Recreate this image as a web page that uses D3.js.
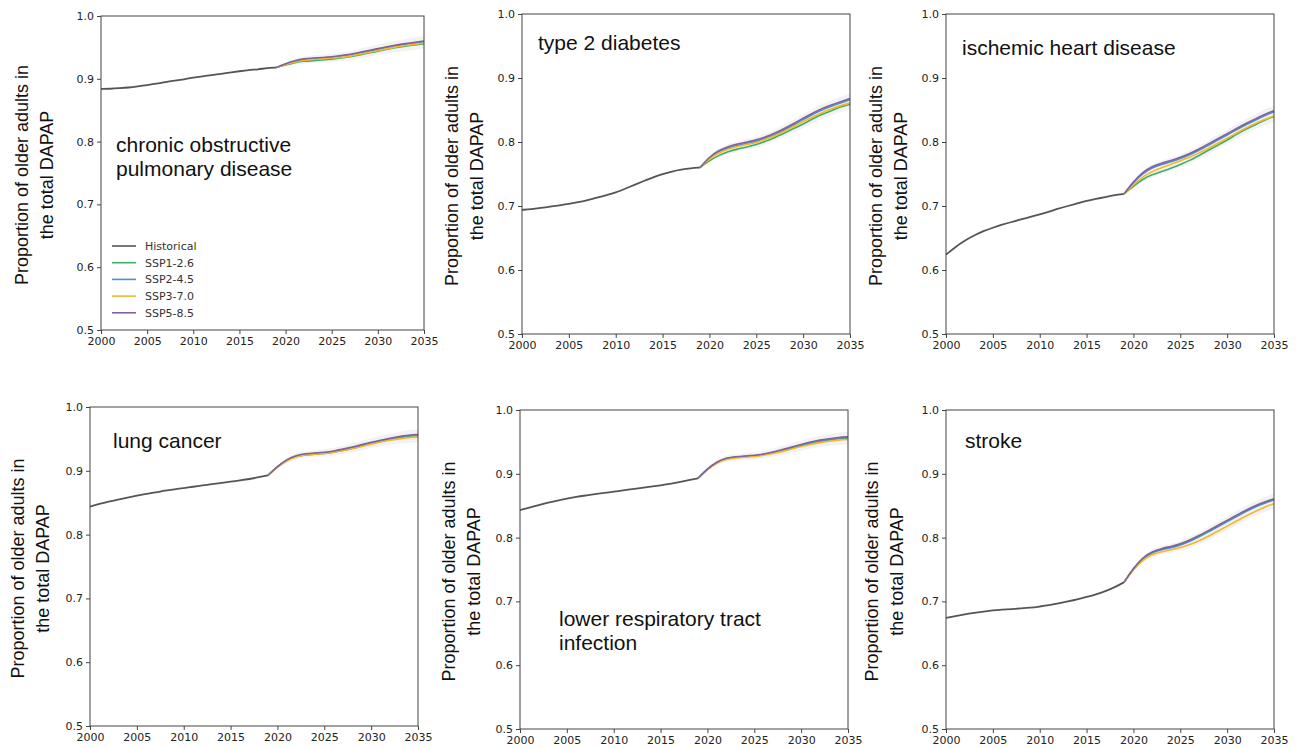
<!DOCTYPE html>
<html><head><meta charset="utf-8">
<script src="https://cdn.jsdelivr.net/npm/d3@7"></script>
<style>body{margin:0;background:#fff}svg{display:block}</style>
</head><body><svg id="c" width="1297" height="748"></svg>
<script>
// ---------- data ----------
const histYears = [2000,2001,2002,2003,2004,2005,2006,2007,2008,2009,2010,2011,2012,2013,2014,2015,2016,2017,2018,2019];
const projYears = [2019,2020,2021,2022,2023,2024,2025,2026,2027,2028,2029,2030,2031,2032,2033,2034,2035];
const xTickValues = [2000,2005,2010,2015,2020,2025,2030,2035];
const yTickValues = [0.5,0.6,0.7,0.8,0.9,1.0];
const seriesNames = ["Historical","SSP1-2.6","SSP2-4.5","SSP3-7.0","SSP5-8.5"];
const bandMargin = [0,0.002,0.003,0.004,0.004,0.004,0.005,0.005,0.005,0.006,0.006,0.006,0.007,0.007,0.007,0.008,0.008];

// chronic obstructive pulmonary disease
const copdHist = [0.884,0.884,0.885,0.886,0.888,0.890,0.892,0.895,0.897,0.899,0.902,0.904,0.906,0.908,0.910,0.912,0.914,0.915,0.917,0.918];
const copdSSP126 = [0.918,0.922,0.926,0.928,0.929,0.930,0.931,0.933,0.935,0.938,0.941,0.944,0.947,0.950,0.952,0.954,0.956];
const copdSSP245 = [0.918,0.923,0.928,0.931,0.932,0.933,0.934,0.936,0.938,0.941,0.944,0.947,0.950,0.953,0.955,0.957,0.959];
const copdSSP370 = [0.918,0.923,0.927,0.930,0.931,0.932,0.933,0.934,0.936,0.939,0.942,0.945,0.948,0.951,0.953,0.955,0.957];
const copdSSP585 = [0.918,0.924,0.929,0.932,0.933,0.934,0.935,0.937,0.939,0.942,0.945,0.948,0.951,0.954,0.956,0.958,0.960];

// type 2 diabetes
const t2dHist = [0.694,0.695,0.697,0.699,0.701,0.703,0.706,0.709,0.713,0.717,0.721,0.727,0.733,0.739,0.745,0.750,0.754,0.757,0.759,0.760];
const t2dSSP126 = [0.760,0.771,0.779,0.785,0.789,0.792,0.796,0.801,0.807,0.814,0.821,0.828,0.836,0.843,0.849,0.855,0.859];
const t2dSSP245 = [0.760,0.776,0.786,0.791,0.795,0.798,0.801,0.806,0.812,0.819,0.827,0.835,0.843,0.850,0.856,0.861,0.866];
const t2dSSP370 = [0.760,0.774,0.783,0.789,0.793,0.796,0.799,0.804,0.810,0.817,0.824,0.832,0.839,0.846,0.852,0.857,0.861];
const t2dSSP585 = [0.760,0.777,0.787,0.793,0.797,0.800,0.803,0.808,0.814,0.821,0.829,0.837,0.845,0.852,0.858,0.863,0.868];

// ischemic heart disease
const ihdHist = [0.624,0.636,0.646,0.654,0.661,0.666,0.671,0.675,0.679,0.683,0.687,0.691,0.696,0.700,0.704,0.708,0.711,0.714,0.717,0.719];
const ihdSSP126 = [0.719,0.731,0.742,0.749,0.754,0.759,0.765,0.771,0.779,0.787,0.795,0.803,0.812,0.820,0.827,0.834,0.840];
const ihdSSP245 = [0.719,0.737,0.751,0.760,0.765,0.769,0.774,0.780,0.787,0.795,0.803,0.811,0.819,0.827,0.834,0.841,0.847];
const ihdSSP370 = [0.719,0.733,0.746,0.754,0.760,0.765,0.771,0.776,0.783,0.790,0.798,0.806,0.814,0.822,0.829,0.835,0.841];
const ihdSSP585 = [0.719,0.738,0.753,0.762,0.767,0.771,0.776,0.782,0.789,0.797,0.805,0.813,0.821,0.829,0.836,0.843,0.849];

// lung cancer
const lungHist = [0.844,0.848,0.852,0.855,0.858,0.861,0.864,0.866,0.869,0.871,0.873,0.875,0.877,0.879,0.881,0.883,0.885,0.887,0.890,0.893];
const lungSSP126 = [0.893,0.906,0.917,0.923,0.925,0.926,0.927,0.929,0.932,0.935,0.939,0.943,0.946,0.949,0.952,0.954,0.955];
const lungSSP245 = [0.893,0.907,0.917,0.923,0.926,0.927,0.928,0.930,0.933,0.936,0.940,0.944,0.947,0.950,0.953,0.955,0.956];
const lungSSP370 = [0.893,0.906,0.916,0.922,0.925,0.926,0.927,0.929,0.932,0.935,0.938,0.942,0.945,0.948,0.950,0.952,0.953];
const lungSSP585 = [0.893,0.907,0.918,0.924,0.927,0.928,0.929,0.931,0.934,0.937,0.941,0.945,0.948,0.951,0.954,0.956,0.957];

// lower respiratory tract infection
const lriHist = [0.843,0.847,0.851,0.855,0.858,0.861,0.864,0.866,0.868,0.870,0.872,0.874,0.876,0.878,0.880,0.882,0.884,0.887,0.890,0.893];
const lriSSP126 = [0.893,0.907,0.918,0.924,0.926,0.927,0.928,0.930,0.933,0.936,0.940,0.944,0.948,0.951,0.953,0.955,0.956];
const lriSSP245 = [0.893,0.908,0.918,0.924,0.926,0.927,0.928,0.930,0.933,0.937,0.941,0.945,0.949,0.952,0.954,0.956,0.957];
const lriSSP370 = [0.893,0.907,0.917,0.923,0.925,0.926,0.927,0.929,0.932,0.935,0.939,0.943,0.946,0.949,0.951,0.953,0.954];
const lriSSP585 = [0.893,0.908,0.919,0.925,0.927,0.928,0.929,0.931,0.934,0.938,0.942,0.946,0.950,0.953,0.955,0.957,0.958];

// stroke
const strokeHist = [0.674,0.677,0.680,0.682,0.684,0.686,0.687,0.688,0.689,0.690,0.692,0.694,0.697,0.700,0.703,0.707,0.711,0.716,0.722,0.730];
const strokeSSP126 = [0.730,0.752,0.768,0.777,0.782,0.785,0.789,0.795,0.802,0.810,0.818,0.826,0.834,0.842,0.849,0.855,0.860];
const strokeSSP245 = [0.730,0.751,0.768,0.777,0.781,0.784,0.788,0.794,0.801,0.809,0.817,0.825,0.833,0.841,0.848,0.854,0.859];
const strokeSSP370 = [0.730,0.750,0.765,0.774,0.778,0.781,0.784,0.789,0.795,0.802,0.810,0.818,0.826,0.834,0.841,0.848,0.853];
const strokeSSP585 = [0.730,0.752,0.769,0.778,0.783,0.786,0.790,0.796,0.803,0.811,0.819,0.827,0.835,0.843,0.850,0.856,0.861];

const panelTitles = [
  ["chronic obstructive","pulmonary disease"],
  ["type 2 diabetes"],
  ["ischemic heart disease"],
  ["lung cancer"],
  ["lower respiratory tract","infection"],
  ["stroke"]
];
const yLabelLines = ["Proportion of older adults in","the total DAPAP"];

// ---------- styles / layout ----------
const colors = {"Historical":"#555555","SSP1-2.6":"#3fae64","SSP2-4.5":"#4f8fd0","SSP3-7.0":"#f6b726","SSP5-8.5":"#80639c"};
const layout = [
  {x0:101,x1:424,y0:16,y1:330,lab:22,tx:116,ty:152,legend:true},
  {x0:522,x1:850,y0:14,y1:334,lab:452,tx:538,ty:50},
  {x0:946,x1:1274,y0:14,y1:334,lab:876,tx:962,ty:55},
  {x0:90,x1:418,y0:407,y1:726,lab:18,tx:113,ty:448},
  {x0:520,x1:848,y0:410,y1:729,lab:449,tx:559,ty:626},
  {x0:946,x1:1274,y0:410,y1:729,lab:872,tx:965,ty:448}
];
const panelData = [
  [copdHist,copdSSP126,copdSSP245,copdSSP370,copdSSP585],
  [t2dHist,t2dSSP126,t2dSSP245,t2dSSP370,t2dSSP585],
  [ihdHist,ihdSSP126,ihdSSP245,ihdSSP370,ihdSSP585],
  [lungHist,lungSSP126,lungSSP245,lungSSP370,lungSSP585],
  [lriHist,lriSSP126,lriSSP245,lriSSP370,lriSSP585],
  [strokeHist,strokeSSP126,strokeSSP245,strokeSSP370,strokeSSP585]
];

const svg = d3.select("#c");
const tickFont = "'DejaVu Sans', sans-serif";
const textFont = "'Liberation Sans', Arial, sans-serif";

layout.forEach((L, i) => {
  const x = d3.scaleLinear().domain([2000,2035]).range([L.x0, L.x1]);
  const y = d3.scaleLinear().domain([0.5,1.0]).range([L.y1, L.y0]);
  const g = svg.append("g");
  const [hist, s126, s245, s370, s585] = panelData[i];
  const scen = [s126, s245, s370, s585];

  // uncertainty band
  const band = projYears.map((yr, k) => ({
    yr,
    lo: d3.min(scen, s => s[k]) - bandMargin[k],
    hi: d3.max(scen, s => s[k]) + bandMargin[k]
  }));
  g.append("path").datum(band)
    .attr("d", d3.area().x(d => x(d.yr)).y0(d => y(d.lo)).y1(d => y(d.hi)).curve(d3.curveBasis))
    .attr("fill", "#d9d9d9").attr("opacity", 0.35);

  const line = d3.line().x(d => x(d[0])).y(d => y(d[1])).curve(d3.curveBasis);
  // historical
  g.append("path").datum(histYears.map((yr,k) => [yr, hist[k]]))
    .attr("d", line).attr("fill","none").attr("stroke", colors["Historical"]).attr("stroke-width", 1.8);
  scen.forEach((s, j) => {
    g.append("path").datum(projYears.map((yr,k) => [yr, s[k]]))
      .attr("d", line).attr("fill","none").attr("stroke", colors[seriesNames[j+1]]).attr("stroke-width", 1.6);
  });

  // axes
  const ax = g.append("g").attr("transform", `translate(0,${L.y1})`)
    .call(d3.axisBottom(x).tickValues(xTickValues).tickFormat(d3.format("d")).tickSize(4).tickPadding(3));
  const ay = g.append("g").attr("transform", `translate(${L.x0},0)`)
    .call(d3.axisLeft(y).tickValues(yTickValues).tickFormat(d3.format(".1f")).tickSize(4).tickPadding(3));
  [ax, ay].forEach(a => {
    a.select(".domain").remove();
    a.selectAll("line").attr("stroke", "#444");
    a.selectAll("text").attr("font-family", tickFont).attr("font-size", 11).attr("fill", "#222");
  });
  g.append("rect").attr("x", L.x0).attr("y", L.y0).attr("width", L.x1 - L.x0).attr("height", L.y1 - L.y0)
    .attr("fill", "none").attr("stroke", "#444").attr("stroke-width", 1);

  // y label
  const cy = (L.y0 + L.y1) / 2 + 2;
  yLabelLines.forEach((t, k) => {
    g.append("text").attr("transform", `translate(${L.lab + k*25},${cy}) rotate(-90)`)
      .attr("text-anchor", "middle").attr("dy", "0.35em")
      .attr("font-family", textFont).attr("font-size", 18).attr("fill", "#111").text(t);
  });

  // panel title
  panelTitles[i].forEach((t, k) => {
    g.append("text").attr("x", L.tx).attr("y", L.ty + k*24)
      .attr("font-family", textFont).attr("font-size", 21).attr("fill", "#111").text(t);
  });

  // legend
  if (L.legend) {
    seriesNames.forEach((n, k) => {
      const yy = 246 + k*16.7;
      g.append("line").attr("x1", 112).attr("x2", 136).attr("y1", yy).attr("y2", yy)
        .attr("stroke", colors[n]).attr("stroke-width", 1.6);
      g.append("text").attr("x", 145).attr("y", yy).attr("dy", "0.35em")
        .attr("font-family", tickFont).attr("font-size", 11).attr("fill", "#333").text(n);
    });
  }
});
</script>
</body></html>
